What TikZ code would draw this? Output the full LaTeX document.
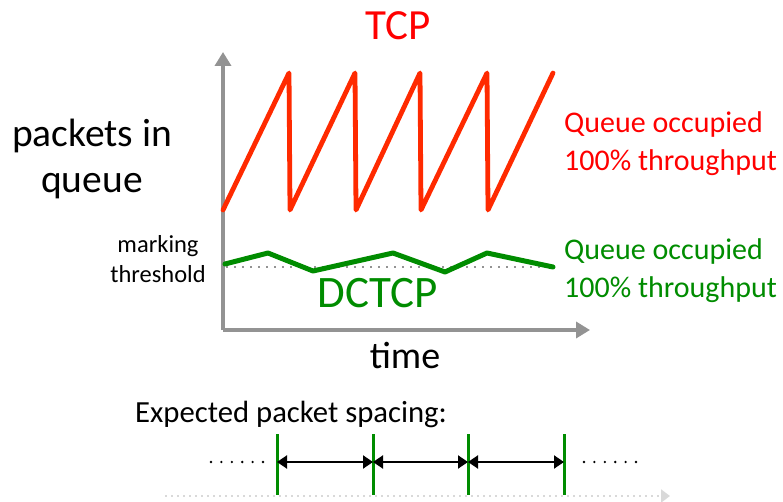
\documentclass[tikz,border=0pt]{standalone}
\usepackage{fontspec}
\setmainfont{Carlito}
\usetikzlibrary{arrows.meta}
\definecolor{tcpred}{HTML}{FF2A00}
\definecolor{txtred}{HTML}{FF0000}
\definecolor{dcgreen}{HTML}{008C00}
\definecolor{axisgray}{HTML}{939393}
\definecolor{lightgray2}{HTML}{D9D9D9}
\tikzset{
  axisline/.style={draw=axisgray,line width=4.5pt,-{Triangle[length=14pt,width=16pt]}},
  tcpline/.style={draw=tcpred,line width=4.8pt,line join=round,line cap=round},
  dcline/.style={draw=dcgreen,line width=5pt,line join=round,line cap=round},
  thresh/.style={draw=axisgray,line width=1.6pt,dash pattern=on 1.6pt off 6.4pt},
  pkt/.style={draw=dcgreen,line width=3pt},
  gap/.style={draw=black,line width=2pt,{Triangle[length=10pt,width=13pt]}-{Triangle[length=10pt,width=13pt]}},
  lbl/.style={anchor=base,inner sep=0pt,font=\fontsize{#1}{#1}\selectfont},
}
\begin{document}
\begin{tikzpicture}[x=1pt,y=-1pt]
\useasboundingbox (0,0) rectangle (783,502);
% axes
\coordinate (origin) at (223,330);
\coordinate (ytop) at (223,52);
\coordinate (xend) at (590,330);
\draw[axisline] (origin) -- (ytop);
\draw[axisline] (origin) -- (xend);
% threshold
\coordinate (th1) at (226,267);
\coordinate (th2) at (553,267);
\draw[thresh] (th1) -- (th2);
% TCP sawtooth
\draw[tcpline] (223,210) -- (289,73) -- (290,210) -- (355,73) -- (356,210)
  -- (420,73) -- (421,210) -- (487,73) -- (488,210) -- (553,73);
% DCTCP
\draw[dcline] (225,264) -- (268,253) -- (313,271) -- (393,253) -- (445,272)
  -- (487,253) -- (553,267);
% labels
\node[lbl=43,text=txtred] (tcp) at (398,40) {TCP};
\node[lbl=45,text=dcgreen] (dctcp) at (378,307) {DCTCP};
\node[lbl=39.5] (pk1) at (92,147) {packets in};
\node[lbl=39.5] (pk2) at (92,193) {queue};
\node[lbl=24.5] (mk1) at (158,253) {marking};
\node[lbl=24.5] (mk2) at (158,282) {threshold};
\node[lbl=38] (time) at (405,368) {time};
\node[lbl=30,text=txtred,anchor=base west] (rq1) at (564,133) {Queue occupied};
\node[lbl=30,text=txtred,anchor=base west] (rq2) at (564,171) {100\% throughput};
\node[lbl=30,text=dcgreen,anchor=base west] (gq1) at (564,259) {Queue occupied};
\node[lbl=30,text=dcgreen,anchor=base west] (gq2) at (564,297) {100\% throughput};
\node[lbl=30.7,anchor=base west] (exp) at (135,422) {Expected packet spacing:};
% packet spacing
\draw[draw=lightgray2,line width=2pt,dash pattern=on 2pt off 4pt,-{Triangle[length=9pt,width=13pt]}] (165,496) -- (670,496);
\foreach \i/\x in {1/277,2/373,3/468,4/564}{
  \coordinate (pt\i) at (\x,434);
  \coordinate (pb\i) at (\x,495);
  \coordinate (pm\i) at (\x,462);
  \draw[pkt] (pt\i) -- (pb\i);
}
\draw[gap] (pm1) -- (pm2);
\draw[gap] (pm2) -- (pm3);
\draw[gap] (pm3) -- (pm4);
\foreach \x in {211,221.4,231.8,242.2,252.6,263}{\fill (\x,462) circle (1.3pt);}
\foreach \x in {584,594.4,604.8,615.2,625.6,636}{\fill (\x,462) circle (1.3pt);}
\end{tikzpicture}
\end{document}
